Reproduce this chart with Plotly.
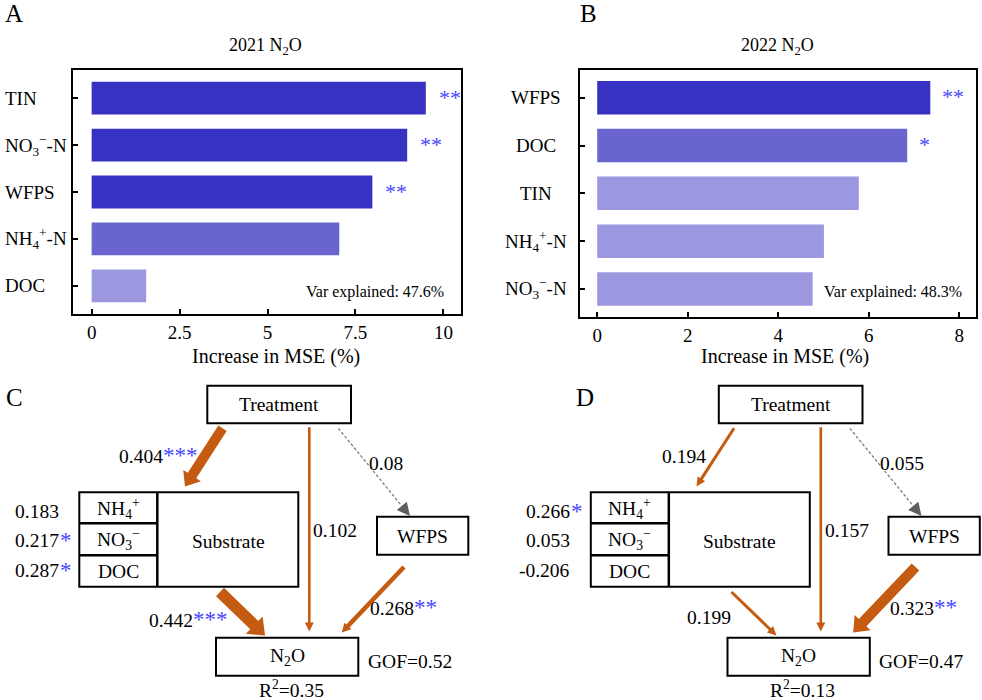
import math
import plotly.graph_objects as go

W, H = 982, 700
SERIF = "Liberation Serif, Times New Roman, serif"

# ---------------- data: random forest importance ----------------
a_vars = ["TIN", "NO3", "WFPS", "NH4", "DOC"]
a_labels = ["TIN", "NO<sub>3</sub><sup>−</sup>-N", "WFPS", "NH<sub>4</sub><sup>+</sup>-N", "DOC"]
a_values = [9.5, 8.97, 7.98, 7.04, 1.55]
a_sig = ["**", "**", "**", "", ""]
a_title = "2021 N<sub>2</sub>O"
a_var_explained = "47.6%"

b_vars = ["WFPS", "DOC", "TIN", "NH4", "NO3"]
b_labels = ["WFPS", "DOC", "TIN", "NH<sub>4</sub><sup>+</sup>-N", "NO<sub>3</sub><sup>−</sup>-N"]
b_values = [7.36, 6.85, 5.78, 5.01, 4.76]
b_sig = ["**", "*", "", "", ""]
b_title = "2022 N<sub>2</sub>O"
b_var_explained = "48.3%"

a_ticks = [0, 2.5, 5, 7.5, 10]
a_ticktext = ["0", "2.5", "5", "7.5", "10"]
b_ticks = [0, 2, 4, 6, 8]
b_ticktext = ["0", "2", "4", "6", "8"]
x_title = "Increase in MSE (%)"

# ---------------- data: path models ----------------
# paths: Treatment->Substrate, Treatment->N2O, Treatment->WFPS, Substrate->N2O, WFPS->N2O
c_paths = [0.404, 0.102, 0.08, 0.442, 0.268]
c_path_sig = ["***", "", "", "***", "**"]
c_loadings = [0.183, 0.217, 0.287]
c_load_sig = ["", "*", "*"]
c_gof = 0.52
c_r2 = 0.35

d_paths = [0.194, 0.157, 0.055, 0.199, 0.323]
d_path_sig = ["", "", "", "", "**"]
d_loadings = [0.266, 0.053, -0.206]
d_load_sig = ["*", "", ""]
d_gof = 0.47
d_r2 = 0.13

# ---------------- styles ----------------
tier_colors = ["#3832C2", "#6964CE", "#9B98E0"]
a_tiers = [0, 0, 0, 1, 2]
b_tiers = [0, 1, 2, 2, 2]
STAR = "#4646FF"
ORANGE = "#C55A11"
GRAY = "#7F7F7F"

fig = go.Figure()
fig.add_trace(go.Bar(y=a_vars, x=a_values, orientation="h", width=0.7,
                     marker=dict(color=[tier_colors[t] for t in a_tiers], line=dict(width=0)),
                     xaxis="x", yaxis="y", showlegend=False, hoverinfo="x+y"))
fig.add_trace(go.Bar(y=b_vars, x=b_values, orientation="h", width=0.7,
                     marker=dict(color=[tier_colors[t] for t in b_tiers], line=dict(width=0)),
                     xaxis="x2", yaxis="y2", showlegend=False, hoverinfo="x+y"))

def px(x):
    return x / W

def py(y):
    return 1 - y / H

axis_common = dict(showline=True, mirror=True, linecolor="black", linewidth=2,
                   showgrid=False, zeroline=False, ticks="inside", ticklen=5,
                   tickcolor="black", tickwidth=1.5)

fig.update_layout(
    width=W, height=H, margin=dict(l=0, r=0, t=0, b=0),
    paper_bgcolor="white", plot_bgcolor="white",
    font=dict(family=SERIF, color="black"),
    bargap=0.3,
    xaxis=dict(domain=[px(73), px(461)], range=[-0.53, 10.5], tickvals=a_ticks,
               ticktext=a_ticktext, tickfont=dict(size=19, family=SERIF),
               ticklabelstandoff=0, anchor="y", **axis_common),
    yaxis=dict(domain=[py(314), py(70)], type="category", categoryorder="array",
               categoryarray=a_vars, range=[4.6, -0.6], showticklabels=False,
               anchor="x", **axis_common),
    xaxis2=dict(domain=[px(580), px(976)], range=[-0.38, 8.37], tickvals=b_ticks,
                ticktext=b_ticktext, tickfont=dict(size=19, family=SERIF),
                ticklabelstandoff=0, anchor="y2", **axis_common),
    yaxis2=dict(domain=[py(316.7), py(70)], type="category", categoryorder="array",
                categoryarray=b_vars, range=[4.58, -0.58], showticklabels=False,
                anchor="x2", **axis_common),
)

ann = []
shapes = []

def text(x, y, s, size=19.5, xanchor="left", color="black", xshift=0):
    ann.append(dict(x=px(x), y=py(y), xref="paper", yref="paper", text=s,
                    showarrow=False, xanchor=xanchor, yanchor="middle", xshift=xshift,
                    font=dict(size=size, family=SERIF, color=color)))

# ----- bar chart decorations -----
for i, lab in enumerate(a_labels):
    ann.append(dict(x=px(3), y=i, xref="paper", yref="y", text=lab, showarrow=False,
                    xanchor="left", yanchor="middle", font=dict(size=19, family=SERIF)))
for i, lab in enumerate(b_labels):
    ann.append(dict(x=px(536), y=i, xref="paper", yref="y2", text=lab, showarrow=False,
                    xanchor="center", yanchor="middle", font=dict(size=19, family=SERIF)))
for i, (v, s) in enumerate(zip(a_values, a_sig)):
    if s:
        ann.append(dict(x=v, y=i, xref="x", yref="y", text=s, showarrow=False,
                        xanchor="left", yanchor="middle", xshift=11, yshift=1,
                        font=dict(size=22, family=SERIF, color=STAR)))
for i, (v, s) in enumerate(zip(b_values, b_sig)):
    if s:
        ann.append(dict(x=v, y=i, xref="x2", yref="y2", text=s, showarrow=False,
                        xanchor="left", yanchor="middle", xshift=10, yshift=1,
                        font=dict(size=22, family=SERIF, color=STAR)))

text(446, 292, "Var explained: " + a_var_explained, size=16, xanchor="right")
text(964, 292, "Var explained: " + b_var_explained, size=16, xanchor="right")
text(265, 46, a_title, size=18, xanchor="center")
text(777, 46, b_title, size=18, xanchor="center")
text(276, 356, x_title, size=20, xanchor="center")
text(785, 356, x_title, size=20, xanchor="center")
text(3, 13, "A", size=25)
text(578, 13, "B", size=25)
text(4, 397, "C", size=25)
text(574, 397, "D", size=25)

# ----- path diagrams -----
def rect(x0, y0, x1, y1, w=2):
    shapes.append(dict(type="rect", xref="paper", yref="paper", x0=px(x0), x1=px(x1),
                       y0=py(y1), y1=py(y0), line=dict(color="black", width=w)))

def line(x0, y0, x1, y1, w=2, color="black", dash="solid"):
    shapes.append(dict(type="line", xref="paper", yref="paper", x0=px(x0), x1=px(x1),
                       y0=py(y0), y1=py(y1), line=dict(color=color, width=w, dash=dash)))

def poly(pts, color):
    path = "M " + " L ".join(f"{px(x):.5f},{py(y):.5f}" for x, y in pts) + " Z"
    shapes.append(dict(type="path", xref="paper", yref="paper", path=path,
                       fillcolor=color, line=dict(width=0)))

def arrow(t, h, w, color=ORANGE, hw=None, hl=None):
    dx, dy = h[0] - t[0], h[1] - t[1]
    L = math.hypot(dx, dy)
    ux, uy = dx / L, dy / L
    nx, ny = -uy, ux
    if hw is None:
        hw = max(2.1 * w, 9)
    if hl is None:
        hl = max(1.3 * w, 9)
    bx, by = h[0] - ux * hl, h[1] - uy * hl
    pts = [(t[0] + nx * w / 2, t[1] + ny * w / 2), (bx + nx * w / 2, by + ny * w / 2),
           (bx + nx * hw / 2, by + ny * hw / 2), h,
           (bx - nx * hw / 2, by - ny * hw / 2), (bx - nx * w / 2, by - ny * w / 2),
           (t[0] - nx * w / 2, t[1] - ny * w / 2)]
    poly(pts, color)

def dashed_arrow(t, h):
    dx, dy = h[0] - t[0], h[1] - t[1]
    L = math.hypot(dx, dy)
    ux, uy = dx / L, dy / L
    nx, ny = -uy, ux
    hl, hw = 13, 13
    bx, by = h[0] - ux * hl, h[1] - uy * hl
    line(t[0], t[1], bx, by, w=1.3, color=GRAY, dash="3px,2px")
    poly([(bx + nx * hw / 2, by + ny * hw / 2), h, (bx - nx * hw / 2, by - ny * hw / 2)], "#5F5F5F")

def lab(v, s):
    t = f"{v}"
    if s:
        t += f"<span style='color:{STAR};font-size:23px'>{s}</span>"
    return t

# per-panel style: x offset, arrow widths, label anchors
panels = [
    dict(ox=0, paths=c_paths, psig=c_path_sig, loads=c_loadings, lsig=c_load_sig,
         gof=c_gof, r2=c_r2, widths=[10, 2.6, None, 11.5, 4.5],
         labs=[(199, 455, "right"), (311, 530, "left"), (367, 463, "left"),
               (229, 619, "right"), (368, 607, "left")]),
    dict(ox=511.5, paths=d_paths, psig=d_path_sig, loads=d_loadings, lsig=d_load_sig,
         gof=d_gof, r2=d_r2, widths=[3, 2.6, None, 3, 10.5],
         labs=[(196, 456, "right"), (311, 530, "left"), (366, 463, "left"),
               (221, 617, "right"), (376, 607, "left")]),
]

for p in panels:
    o = p["ox"]
    # boxes
    rect(o + 207.3, 385.7, o + 351, 423.3)
    text(o + 279, 404, "Treatment", xanchor="center")
    rect(o + 79.3, 492.3, o + 298.3, 586.7)
    line(o + 157.3, 492.3, o + 157.3, 586.7, w=2.5)
    line(o + 79.3, 523.3, o + 157.3, 523.3, w=2.5)
    line(o + 79.3, 555.3, o + 157.3, 555.3, w=2.5)
    text(o + 118.3, 509, "NH<sub>4</sub><sup>+</sup>", xanchor="center")
    text(o + 118.3, 539, "NO<sub>3</sub><sup>−</sup>", xanchor="center")
    text(o + 118.3, 571, "DOC", xanchor="center")
    text(o + 228, 541, "Substrate", xanchor="center")
    rect(o + 377, 516.7, o + 468.3, 554.7)
    text(o + 422.7, 536, "WFPS", xanchor="center")
    rect(o + 216, 637.7, o + 358.3, 675.7)
    text(o + 287, 657, "N<sub>2</sub>O", xanchor="center")
    text(o + 365.7, 661, f"GOF={p['gof']:.2f}")
    text(o + 291, 689, f"R<sup>2</sup>={p['r2']:.2f}", xanchor="center")
    # loadings
    for k, (v, s) in enumerate(zip(p["loads"], p["lsig"])):
        yy = [511.7, 540, 570][k]
        text(o + 60.5, yy, f"{v:.3f}", xanchor="right")
        if s:
            text(o + 60.5, yy, s, xanchor="left", color=STAR, xshift=-3, size=23)
    # arrows
    w = p["widths"]
    arrow((o + 222.5, 428.3), (o + 185, 486.5), w[0])
    arrow((o + 309.3, 427.3), (o + 309.3, 631.5), w[1])
    dashed_arrow((o + 338.3, 428.3), (o + 410, 516))
    arrow((o + 220, 592), (o + 265, 635.5), w[3])
    arrow((o + 404, 567), (o + 341.7, 632.5), w[4])
    # path labels
    for (lx, ly, la), v, s in zip(p["labs"], p["paths"], p["psig"]):
        text(o + lx, ly, lab(v, s), xanchor=la)

fig.update_layout(annotations=ann, shapes=shapes)
fig.write_html("out.html", config={"displayModeBar": False},
               post_script="document.body.style.margin='0';document.body.style.overflow='hidden';")
